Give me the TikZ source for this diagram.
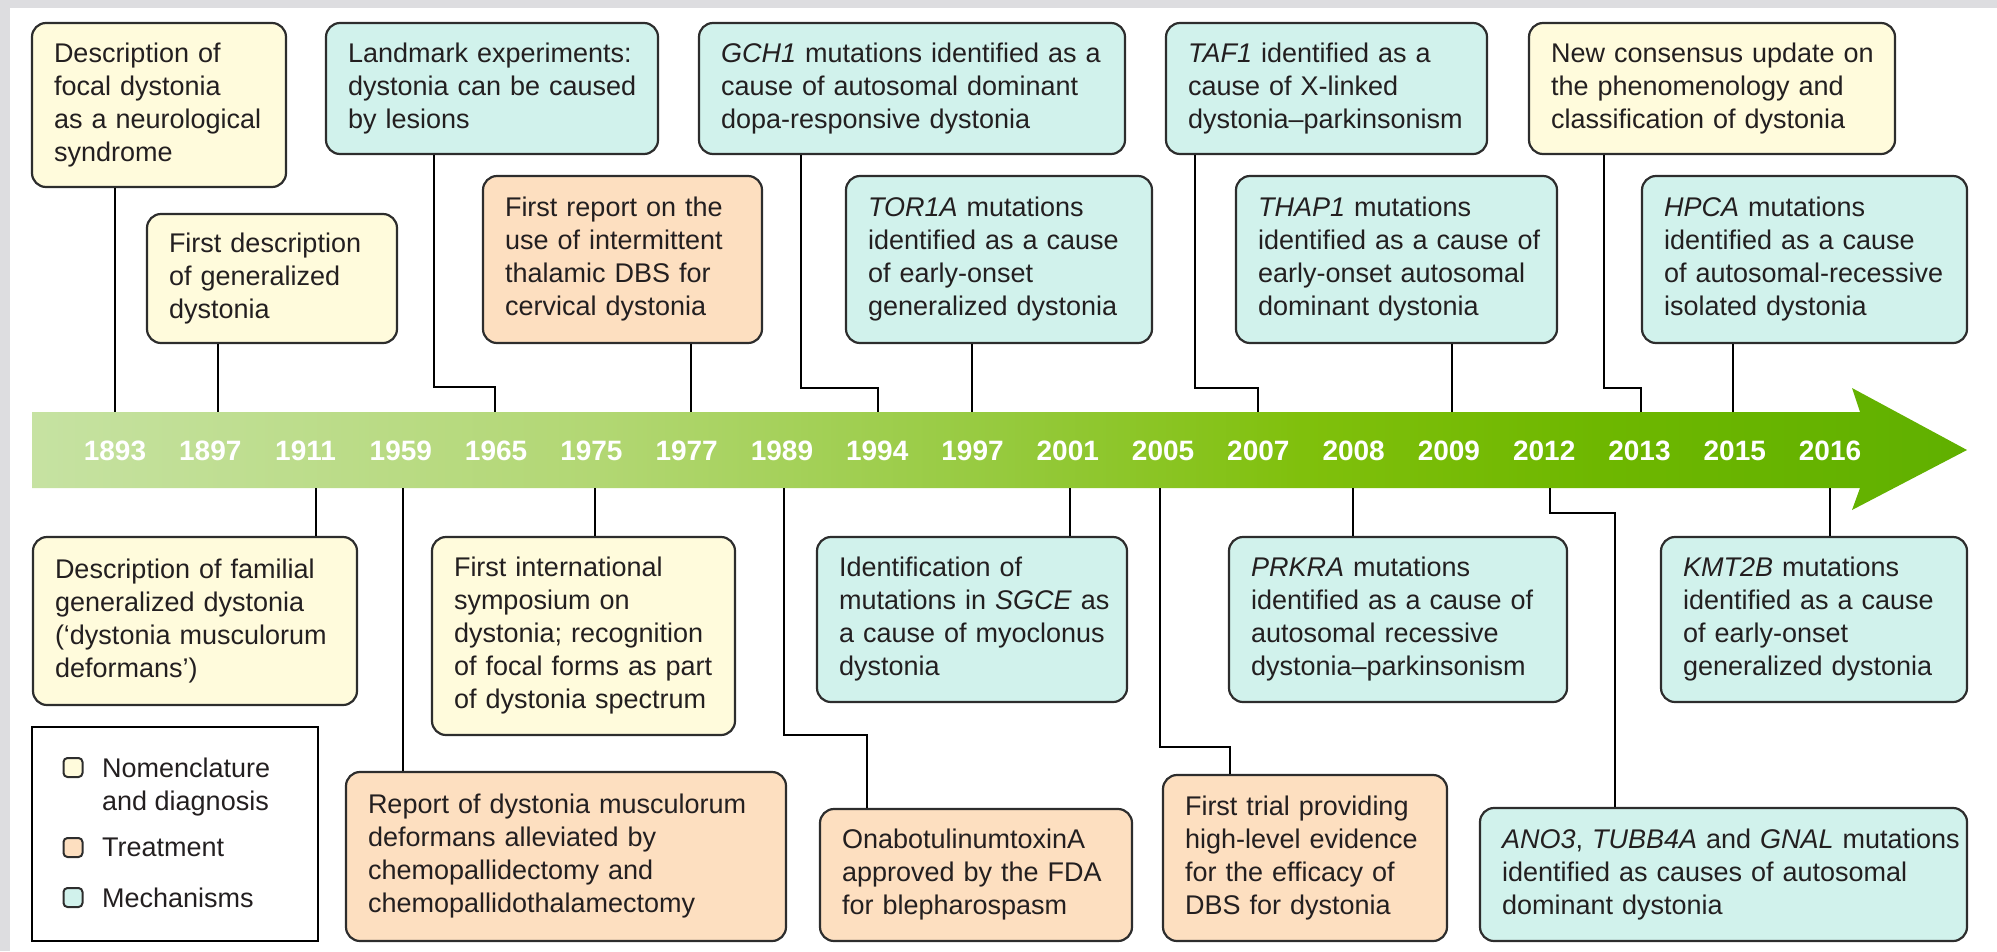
\documentclass[tikz,border=0pt]{standalone}
\usepackage{fontspec}
\setmainfont{Liberation Sans}

% fills for the three categories
\definecolor{nomfill}{RGB}{255,251,220}
\definecolor{trtfill}{RGB}{253,223,192}
\definecolor{mecfill}{RGB}{209,242,236}
\definecolor{boxedge}{RGB}{45,45,45}
\definecolor{ink}{RGB}{35,31,32}
\definecolor{framegrey}{RGB}{221,221,224}
% greens of the time arrow, light to dark
\definecolor{bandA}{RGB}{198,226,162}
\definecolor{bandB}{RGB}{178,215,115}
\definecolor{bandC}{RGB}{150,202,62}
\definecolor{bandD}{RGB}{128,192,12}
\definecolor{bandE}{RGB}{110,183,0}
\definecolor{bandF}{RGB}{96,176,0}
\pgfdeclarehorizontalshading{timeband}{100bp}{color(0bp)=(bandA); color(25bp)=(bandA); color(39.7bp)=(bandB); color(50bp)=(bandC); color(57.8bp)=(bandD); color(65.5bp)=(bandE); color(75bp)=(bandF); color(100bp)=(bandF)}

\tikzset{
  evt/.style={draw=boxedge, line width=2.2pt, rounded corners=14pt,
    inner xsep=8pt, inner ysep=0pt, align=left, text=ink,
    font=\fontsize{27pt}{33pt}\selectfont,
    execute at begin node={\leftskip=14pt\relax\hyphenpenalty=10000\exhyphenpenalty=10000\relax}},
  nomen/.style={fill=nomfill},
  treat/.style={fill=trtfill},
  mech/.style={fill=mecfill},
  conn/.style={draw=black, line width=1.8pt},
  yr/.style={text=white, font=\fontsize{28pt}{28pt}\selectfont\bfseries, inner sep=0pt},
  keybox/.style={draw=boxedge, line width=2pt, rounded corners=4pt, minimum size=19pt, inner sep=0pt},
  keytext/.style={text=ink, font=\fontsize{27pt}{33pt}\selectfont, align=left, inner sep=0pt, anchor=north west}
}

% event box: name, category style, left, top, right, bottom, text
\newcommand\evbox[7]{%
  \pgfmathsetmacro\evW{#5-#3}%
  \pgfmathsetmacro\evH{#6-#4}%
  \pgfmathsetmacro\evT{#5-#3-16}%
  \node[evt,#2,minimum width=\evW pt,minimum height=\evH pt,text width=\evT pt]
    (#1) at ({(#3+#5)/2},{(#4+#6)/2}) {#7};}

\begin{document}
\begin{tikzpicture}[x=1pt,y=-1pt]
\useasboundingbox (0,0) rectangle (1997,951);
\fill[framegrey] (0,0) rectangle (1997,8);
\fill[framegrey] (0,0) rectangle (10,951);

% time arrow
\shade[shading=timeband] (32,412) -- (1860,412) -- (1852,388) -- (1967,450)
  -- (1852,510) -- (1860,488) -- (32,488) -- cycle;

\foreach \yr [count=\i from 0] in {1893,1897,1911,1959,1965,1975,1977,1989,1994,1997,2001,2005,2007,2008,2009,2012,2013,2015,2016}
  \node[yr] (t\yr) at ({115+95.28*\i},451) {\yr};

% attachment points on the arrow
\coordinate (up1893) at (115,412);
\coordinate (up1897) at (218,412);
\coordinate (up1965) at (495,412);
\coordinate (up1977) at (691,412);
\coordinate (up1994) at (878,412);
\coordinate (up1997) at (972,412);
\coordinate (up2007) at (1258,412);
\coordinate (up2009) at (1452,412);
\coordinate (up2013) at (1641,412);
\coordinate (up2015) at (1733,412);
\coordinate (dn1911) at (316,488);
\coordinate (dn1959) at (403,488);
\coordinate (dn1975) at (595,488);
\coordinate (dn1989) at (784,488);
\coordinate (dn2001) at (1070,488);
\coordinate (dn2005) at (1160,488);
\coordinate (dn2008) at (1353,488);
\coordinate (dn2012) at (1550,488);
\coordinate (dn2016) at (1830,488);
% elbows of the stepped connectors
\coordinate (kn1965) at (434,387);
\coordinate (kn1994) at (801,388);
\coordinate (kn2007) at (1195,388);
\coordinate (kn2013) at (1604,388);
\coordinate (kn1989) at (867,735);
\coordinate (kn2005) at (1230,747);
\coordinate (kn2012) at (1615,513);

% events above the arrow
\evbox{e1893}{nomen}{32}{23}{286}{187}{Description of\\focal dystonia\\as a neurological\\syndrome}
\evbox{e1897}{nomen}{147}{214}{397}{343}{First description\\of generalized\\dystonia}
\evbox{e1965}{mech}{326}{23}{658}{154}{Landmark experiments:\\dystonia can be caused\\by lesions}
\evbox{e1977}{treat}{483}{176}{762}{343}{First report on the\\use of intermittent\\thalamic DBS for\\cervical dystonia}
\evbox{e1994}{mech}{699}{23}{1125}{154}{\textit{GCH1} mutations identified as a\\cause of autosomal dominant\\dopa-responsive dystonia}
\evbox{e1997}{mech}{846}{176}{1152}{343}{\textit{TOR1A} mutations\\identified as a cause\\of early-onset\\generalized dystonia}
\evbox{e2007}{mech}{1166}{23}{1487}{154}{\textit{TAF1} identified as a\\cause of X-linked\\dystonia–parkinsonism}
\evbox{e2009}{mech}{1236}{176}{1557}{343}{\textit{THAP1} mutations\\identified as a cause of\\early-onset autosomal\\dominant dystonia}
\evbox{e2013}{nomen}{1529}{23}{1895}{154}{New consensus update on\\the phenomenology and\\classification of dystonia}
\evbox{e2015}{mech}{1642}{176}{1967}{343}{\textit{HPCA} mutations\\identified as a cause\\of autosomal-recessive\\isolated dystonia}

% events below the arrow
\evbox{e1911}{nomen}{33}{537}{357}{705}{Description of familial\\generalized dystonia\\(‘dystonia musculorum\\deformans’)}
\evbox{e1975}{nomen}{432}{537}{735}{735}{First international\\symposium on\\dystonia; recognition\\of focal forms as part\\of dystonia spectrum}
\evbox{e2001}{mech}{817}{537}{1127}{702}{Identification of\\mutations in \textit{SGCE} as\\a cause of myoclonus\\dystonia}
\evbox{e2008}{mech}{1229}{537}{1567}{702}{\textit{PRKRA} mutations\\identified as a cause of\\autosomal recessive\\dystonia–parkinsonism}
\evbox{e2016}{mech}{1661}{537}{1967}{702}{\textit{KMT2B} mutations\\identified as a cause\\of early-onset\\generalized dystonia}
\evbox{e1959}{treat}{346}{772}{786}{941}{Report of dystonia musculorum\\deformans alleviated by\\chemopallidectomy and\\chemopallidothalamectomy}
\evbox{e1989}{treat}{820}{809}{1132}{941}{OnabotulinumtoxinA\\approved by the FDA\\for blepharospasm}
\evbox{e2005}{treat}{1163}{775}{1447}{941}{First trial providing\\high-level evidence\\for the efficacy of\\DBS for dystonia}
\evbox{e2012}{mech}{1480}{808}{1967}{941}{\mbox{\textit{ANO3}, \textit{TUBB4A} and \textit{GNAL} mutations}\\identified as causes of autosomal\\dominant dystonia}

% connectors above
\draw[conn] (e1893.south -| up1893) -- (up1893);
\draw[conn] (e1897.south -| up1897) -- (up1897);
\draw[conn] (e1965.south -| kn1965) -- (kn1965) -| (up1965);
\draw[conn] (e1977.south -| up1977) -- (up1977);
\draw[conn] (e1994.south -| kn1994) -- (kn1994) -| (up1994);
\draw[conn] (e1997.south -| up1997) -- (up1997);
\draw[conn] (e2007.south -| kn2007) -- (kn2007) -| (up2007);
\draw[conn] (e2009.south -| up2009) -- (up2009);
\draw[conn] (e2013.south -| kn2013) -- (kn2013) -| (up2013);
\draw[conn] (e2015.south -| up2015) -- (up2015);

% connectors below
\draw[conn] (dn1911) -- (dn1911 |- e1911.north);
\draw[conn] (dn1959) -- (dn1959 |- e1959.north);
\draw[conn] (dn1975) -- (dn1975 |- e1975.north);
\draw[conn] (dn1989) |- (kn1989) -- (kn1989 |- e1989.north);
\draw[conn] (dn2001) -- (dn2001 |- e2001.north);
\draw[conn] (dn2005) |- (kn2005) -- (kn2005 |- e2005.north);
\draw[conn] (dn2008) -- (dn2008 |- e2008.north);
\draw[conn] (dn2012) |- (kn2012) -- (kn2012 |- e2012.north);
\draw[conn] (dn2016) -- (dn2016 |- e2016.north);

% legend
\node[draw=black, line width=2.4pt, minimum width=286pt, minimum height=214pt, inner sep=0pt] (legend) at (175,834) {};
\node[keybox, fill=nomfill] (k1) at (73,767.5) {};
\node[keybox, fill=trtfill] (k2) at (73,847.5) {};
\node[keybox, fill=mecfill] (k3) at (73,897.5) {};
\node[keytext] (k1t) at (102,758) {Nomenclature\\and diagnosis};
\node[keytext] (k2t) at (102,838) {Treatment};
\node[keytext] (k3t) at (102,888) {Mechanisms};
\end{tikzpicture}
\end{document}
